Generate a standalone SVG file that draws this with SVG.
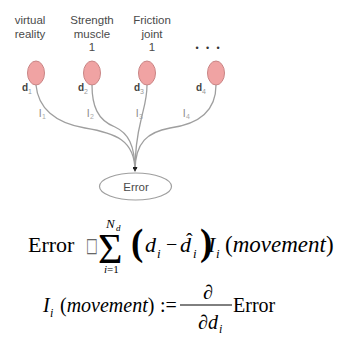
<svg xmlns="http://www.w3.org/2000/svg" width="343" height="337" viewBox="0 0 343 337">
<style>
.lbl{font-family:'Liberation Sans',Arial,sans-serif;font-size:11.5px;fill:#4a4a4a;text-anchor:middle}
.dl{font-family:'Liberation Sans',Arial,sans-serif;font-size:10px;font-weight:bold;fill:#444}
.ds{font-family:'Liberation Sans',Arial,sans-serif;font-size:7px;fill:#999}
.ll{font-family:'Liberation Sans',Arial,sans-serif;font-size:11px;fill:#8a8a8a}
.ls{font-family:'Liberation Sans',Arial,sans-serif;font-size:7px;fill:#aaa}
.node{fill:#f0a3a3;stroke:#c98585;stroke-width:1}
.edge{fill:none;stroke:#9f9f9f;stroke-width:1.3}
.m{font-family:'Liberation Serif','Times New Roman',serif;fill:#000}
.it{font-style:italic}
</style>
<defs>
<marker id="arr" viewBox="0 0 10 10" refX="9" refY="5" markerWidth="5" markerHeight="5" orient="auto" markerUnits="userSpaceOnUse">
<path d="M0,0 L10,5 L0,10 z" fill="#222"/>
</marker>
</defs>
<rect width="343" height="337" fill="#fff"/>

<g id="node-virtual-reality">
<text class="lbl" x="30" y="24">virtual</text>
<text class="lbl" x="30" y="37.5">reality</text>
<ellipse class="node" cx="36" cy="73" rx="8.5" ry="12"/>
<text class="dl" x="22" y="91">d</text><text class="ds" x="28" y="94">1</text>
<text class="ll" x="39" y="117">l</text><text class="ls" x="42" y="119">1</text>
</g>
<g id="node-strength-muscle">
<text class="lbl" x="92" y="24">Strength</text>
<text class="lbl" x="92" y="37.5">muscle</text>
<text class="lbl" x="92" y="51">1</text>
<ellipse class="node" cx="92" cy="73" rx="8.5" ry="12"/>
<text class="dl" x="78" y="91">d</text><text class="ds" x="84" y="94">2</text>
<text class="ll" x="87" y="117">l</text><text class="ls" x="90" y="119">2</text>
</g>
<g id="node-friction-joint">
<text class="lbl" x="152" y="24">Friction</text>
<text class="lbl" x="152" y="37.5">joint</text>
<text class="lbl" x="152" y="51">1</text>
<ellipse class="node" cx="147" cy="73" rx="8.5" ry="12"/>
<text class="dl" x="134" y="91">d</text><text class="ds" x="140" y="94">3</text>
<text class="ll" x="136" y="117">l</text><text class="ls" x="139" y="119">3</text>
</g>
<g id="node-more">
<text x="197 207.5 218" y="51" font-family="'Liberation Sans',Arial,sans-serif" font-size="9" fill="#333" text-anchor="middle">•••</text>
<ellipse class="node" cx="216" cy="73" rx="8.5" ry="12"/>
<text class="dl" x="196" y="91">d</text><text class="ds" x="202" y="94">4</text>
<text class="ll" x="183" y="117">l</text><text class="ls" x="186" y="119">4</text>
</g>

<g id="connectors">
<path class="edge" d="M36,85 C38,108 55,123 85,128 C115,133 135,140 135,171" marker-end="url(#arr)"/>
<path class="edge" d="M92,85 C92,105 97,120 115,127 C128,133 135,145 135,171" marker-end="url(#arr)"/>
<path class="edge" d="M147,85 C147,100 143,110 141,120 C138,132 135,145 135,171" marker-end="url(#arr)"/>
<path class="edge" d="M216,85 C216,110 200,124 170,128 C148,132 135,142 135,171" marker-end="url(#arr)"/>
</g>

<g id="node-error">
<ellipse cx="135.5" cy="186.5" rx="36" ry="13.5" fill="#fff" stroke="#9f9f9f" stroke-width="1.2"/>
<text class="lbl" x="136" y="191">Error</text>
</g>

<g id="formula">
<text class="m" x="28" y="252" font-size="22">Error</text>
<text transform="translate(86,252) scale(0.62,1)" font-size="20" font-family="'DejaVu Sans',sans-serif" fill="#666">□</text>
<text class="m" x="98" y="263" font-size="42">Σ</text>
<text class="m it" x="106" y="228" font-size="13">N</text>
<text class="m it" x="116" y="231" font-size="9">d</text>
<text class="m" x="104" y="273" font-size="11"><tspan class="it">i</tspan>=1</text>
<text class="m" x="131" y="255" font-size="37" font-weight="bold">(</text>
<text class="m it" x="145" y="252" font-size="22">d</text>
<text class="m it" x="157" y="258" font-size="13">i</text>
<text class="m" x="166" y="251" font-size="20">−</text>
<text class="m it" x="180" y="252" font-size="22">d</text>
<text class="m" x="186" y="248" font-size="20">ˆ</text>
<text class="m it" x="193" y="258" font-size="13">i</text>
<text class="m" x="200" y="255" font-size="37" font-weight="bold">)</text>
<text class="m it" x="208" y="252" font-size="22">I</text>
<text class="m it" x="216" y="258" font-size="13">i</text>
<text class="m" x="225" y="252" font-size="23">(<tspan class="it">movement</tspan>)</text>

<text class="m it" x="43" y="312" font-size="20">I</text>
<text class="m it" x="50" y="317" font-size="12">i</text>
<text class="m" x="60" y="312" font-size="20">(<tspan class="it">movement</tspan>)</text>
<text class="m" x="160" y="312" font-size="20">:=</text>
<line x1="180" y1="305" x2="232" y2="305" stroke="#000" stroke-width="1"/>
<text class="m" x="208" y="299" font-size="20" text-anchor="middle">∂</text>
<text class="m" x="198" y="329" font-size="20">∂<tspan class="it">d</tspan></text>
<text class="m it" x="219" y="333" font-size="12">i</text>
<text class="m" x="233" y="312" font-size="20">Error</text>
</g>
</svg>
